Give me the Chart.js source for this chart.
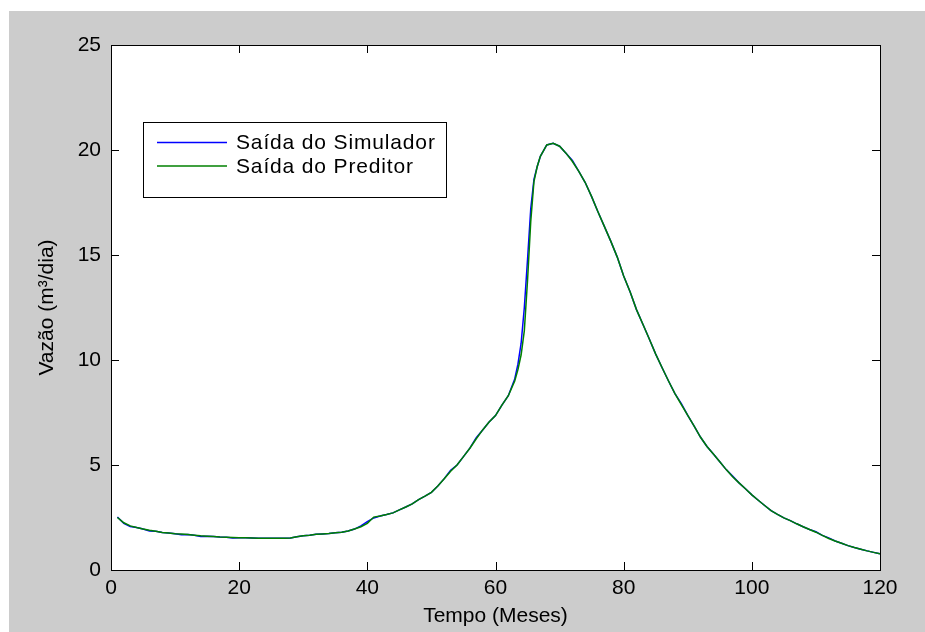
<!DOCTYPE html>
<html><head><meta charset="utf-8">
<style>html,body{margin:0;padding:0;background:#fff;overflow:hidden}#wrap{width:925px;height:632px;position:relative}canvas{display:block}</style>
<script src="https://cdn.jsdelivr.net/npm/chart.js@4.4.1/dist/chart.umd.min.js"></script>
</head><body><div id="wrap"><canvas id="c" width="925" height="632"></canvas></div>
<script>
// ---- data ----
const months = [1,2,3,4,5,6,7,8,9,10,11,12,13,14,15,16,17,18,19,20,
  21,22,23,24,25,26,27,28,29,30,31,32,33,34,35,36,37,38,39,40,
  41,42,43,44,45,46,47,48,49,50,51,52,53,54,55,56,57,58,59,60,
  61,62,63,63.5,64,64.5,65,65.5,66,66.5,67,68,69,70,
  71,72,73,74,75,76,77,78,79,80,81,82,83,84,85,86,87,88,89,90,
  91,92,93,94,95,96,97,98,99,100,101,102,103,104,105,106,107,108,109,110,
  111,112,113,114,115,116,117,118,119,120];
const simulador = [2.52,2.22,2.07,2.02,1.95,1.86,1.84,1.79,1.76,1.73,1.68,1.69,1.66,1.60,1.61,1.59,1.57,1.56,1.52,1.54,
  1.53,1.52,1.51,1.51,1.51,1.51,1.51,1.52,1.58,1.63,1.66,1.70,1.72,1.74,1.77,1.80,1.86,1.95,2.10,2.30,
  2.48,2.57,2.64,2.72,2.86,3.00,3.15,3.35,3.52,3.70,4.00,4.35,4.75,5.00,5.40,5.80,6.30,6.67,7.05,7.35,
  7.85,8.30,9.10,9.80,10.80,12.50,14.80,17.20,18.60,19.20,19.70,20.24,20.32,20.18,
  19.85,19.50,18.98,18.45,17.78,17.05,16.35,15.65,14.90,14.00,13.25,12.40,11.70,11.00,10.28,9.63,9.00,8.40,7.92,7.36,
  6.85,6.32,5.88,5.52,5.15,4.78,4.47,4.15,3.87,3.58,3.32,3.07,2.83,2.65,2.48,2.35,2.20,2.06,1.93,1.82,
  1.65,1.53,1.38,1.27,1.16,1.07,0.99,0.91,0.84,0.77];
const preditor = [2.50,2.25,2.10,2.02,1.95,1.89,1.84,1.79,1.76,1.73,1.71,1.69,1.66,1.63,1.61,1.59,1.57,1.56,1.55,1.54,
  1.53,1.52,1.51,1.51,1.51,1.51,1.51,1.52,1.58,1.63,1.66,1.70,1.72,1.74,1.77,1.80,1.86,1.95,2.06,2.22,
  2.52,2.57,2.64,2.72,2.86,3.00,3.15,3.35,3.52,3.70,4.00,4.35,4.70,5.00,5.40,5.80,6.25,6.67,7.05,7.35,
  7.85,8.30,9.00,9.55,10.25,11.40,13.80,16.60,18.50,19.20,19.70,20.24,20.32,20.18,
  19.85,19.45,18.98,18.45,17.78,17.05,16.35,15.65,14.90,14.00,13.25,12.40,11.70,11.00,10.28,9.63,9.00,8.40,7.88,7.36,
  6.85,6.32,5.88,5.52,5.15,4.78,4.44,4.15,3.87,3.58,3.32,3.07,2.83,2.65,2.48,2.35,2.20,2.06,1.93,1.80,
  1.65,1.50,1.38,1.27,1.16,1.07,0.99,0.91,0.84,0.77];
const xTicks = [0,20,40,60,80,100,120];
const yTicks = [0,5,10,15,20,25];
const seriesNames = ['Saída do Simulador','Saída do Preditor'];
const xTitle = 'Tempo (Meses)';
const yTitle = 'Vazão (m³/dia)';

// ---- rendering ----
const FONT = "'Liberation Sans', Arial, Helvetica, sans-serif";
const toXY = (xs, ys) => xs.map((x, i) => ({x: x, y: ys[i]}));

const matlabFrame = {
  id: 'matlabFrame',
  beforeDraw(chart) {
    const {ctx, chartArea: a} = chart;
    ctx.save();
    ctx.fillStyle = '#ffffff';
    ctx.fillRect(0, 0, chart.width, chart.height);
    ctx.fillStyle = '#cccccc';
    ctx.fillRect(9, 11, chart.width - 9, chart.height - 11);
    ctx.fillStyle = '#ffffff';
    ctx.fillRect(a.left, a.top, a.right - a.left, a.bottom - a.top);
    ctx.restore();
  },
  afterDatasetsDraw(chart) {
    const {ctx, chartArea: a, scales} = chart;
    ctx.save();
    ctx.strokeStyle = '#000';
    ctx.lineWidth = 1;
    // inward ticks on all four sides
    const tl = 8;
    ctx.beginPath();
    scales.x.ticks.forEach(t => {
      const px = Math.round(scales.x.getPixelForValue(t.value)) + 0.5;
      ctx.moveTo(px, a.bottom); ctx.lineTo(px, a.bottom - tl);
      ctx.moveTo(px, a.top); ctx.lineTo(px, a.top + tl);
    });
    scales.y.ticks.forEach(t => {
      const py = Math.round(scales.y.getPixelForValue(t.value)) + 0.5;
      ctx.moveTo(a.left, py); ctx.lineTo(a.left + tl, py);
      ctx.moveTo(a.right, py); ctx.lineTo(a.right - tl, py);
    });
    ctx.stroke();
    ctx.strokeRect(Math.round(a.left) + 0.5, Math.round(a.top) + 0.5, Math.round(a.right - a.left), Math.round(a.bottom - a.top));
    // legend box
    const lx = a.left + 32, ly = a.top + 77, lw = 303, lh = 75;
    ctx.fillStyle = '#fff';
    ctx.fillRect(lx, ly, lw, lh);
    ctx.strokeRect(Math.round(lx) + 0.5, Math.round(ly) + 0.5, lw, lh);
    const rows = [ly + 20.5, ly + 44];
    chart.data.datasets.forEach((ds, i) => {
      ctx.strokeStyle = ds.borderColor;
      ctx.lineWidth = 1.5;
      ctx.beginPath();
      ctx.moveTo(lx + 14, rows[i]); ctx.lineTo(lx + 84, rows[i]);
      ctx.stroke();
      ctx.fillStyle = '#000';
      ctx.font = '21px ' + FONT;
      ctx.textBaseline = 'middle';
      ctx.textAlign = 'left';
      if ('letterSpacing' in ctx) ctx.letterSpacing = '0.85px';
      ctx.fillText(ds.label, lx + 93, rows[i] + 1);
      if ('letterSpacing' in ctx) ctx.letterSpacing = '0px';
    });
    ctx.restore();
  }
};

new Chart(document.getElementById('c'), {
  type: 'line',
  data: {
    datasets: [
      {label: seriesNames[0], data: toXY(months, simulador), borderColor: '#0000ff', borderWidth: 1.5, pointRadius: 0, tension: 0, fill: false, order: 1},
      {label: seriesNames[1], data: toXY(months, preditor), borderColor: '#008000', borderWidth: 1.5, pointRadius: 0, tension: 0, fill: false, order: 0}
    ]
  },
  options: {
    responsive: false,
    animation: false,
    devicePixelRatio: 1,
    layout: {padding: {top: 45, right: 45, left: 0, bottom: 0}},
    plugins: {legend: {display: false}, tooltip: {enabled: false}},
    scales: {
      x: {
        type: 'linear', min: 0, max: 120,
        afterBuildTicks: s => { s.ticks = xTicks.map(v => ({value: v})); },
        afterFit: s => { s.height = 62; },
        grid: {display: false, drawTicks: false},
        border: {display: false},
        ticks: {color: '#000', font: {family: FONT, size: 21}, padding: 6, maxRotation: 0},
        title: {display: true, text: xTitle, color: '#000', font: {family: FONT, size: 21}, padding: {top: 0, bottom: 3}}
      },
      y: {
        type: 'linear', min: 0, max: 25,
        afterBuildTicks: s => { s.ticks = yTicks.map(v => ({value: v})); },
        afterFit: s => { s.width = 111; },
        grid: {display: false, drawTicks: false},
        border: {display: false},
        ticks: {color: '#000', font: {family: FONT, size: 21}, padding: 10},
        title: {display: true, text: yTitle, color: '#000', font: {family: FONT, size: 21}, padding: {top: 35, bottom: 0}}
      }
    }
  },
  plugins: [matlabFrame]
});
</script>
</body></html>
